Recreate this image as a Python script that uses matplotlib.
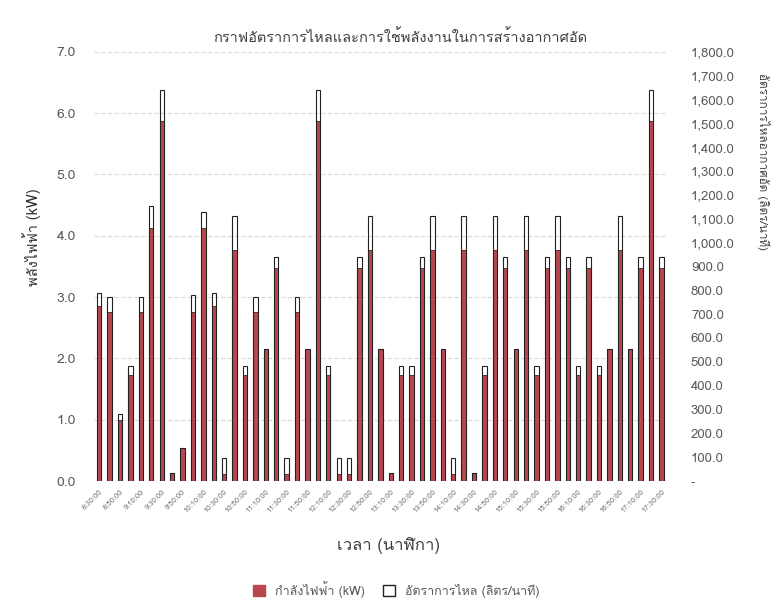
import matplotlib
matplotlib.use('Agg')
import matplotlib.pyplot as plt
from matplotlib.patches import Patch
from matplotlib.ticker import FuncFormatter, MultipleLocator
import numpy as np

# data (one bar every 10 minutes)
times = [
    '8:30:00', '8:40:00', '8:50:00', '9:00:00', '9:10:00', '9:20:00', '9:30:00',
    '9:40:00', '9:50:00', '10:00:00', '10:10:00', '10:20:00', '10:30:00', '10:40:00',
    '10:50:00', '11:00:00', '11:10:00', '11:20:00', '11:30:00', '11:40:00', '11:50:00',
    '12:00:00', '12:10:00', '12:20:00', '12:30:00', '12:40:00', '12:50:00', '13:00:00',
    '13:10:00', '13:20:00', '13:30:00', '13:40:00', '13:50:00', '14:00:00', '14:10:00',
    '14:20:00', '14:30:00', '14:40:00', '14:50:00', '15:00:00', '15:10:00', '15:20:00',
    '15:30:00', '15:40:00', '15:50:00', '16:00:00', '16:10:00', '16:20:00', '16:30:00',
    '16:40:00', '16:50:00', '17:00:00', '17:10:00', '17:20:00', '17:30:00',
]
power_kw = [
    2.85, 2.76, 1.00, 1.73, 2.76, 4.12, 5.87, 0.14, 0.54, 2.76,
    4.12, 2.85, 0.11, 3.76, 1.73, 2.76, 2.16, 3.47, 0.11, 2.76,
    2.16, 5.87, 1.73, 0.11, 0.11, 3.47, 3.76, 2.16, 0.14, 1.73,
    1.73, 3.47, 3.76, 2.16, 0.11, 3.76, 0.14, 1.73, 3.76, 3.47,
    2.16, 3.76, 1.73, 3.47, 3.76, 3.47, 1.73, 3.47, 1.73, 2.16,
    3.76, 2.16, 3.47, 5.87, 3.47,
]
flow_lpm = [
    790, 770, 280, 483, 770, 1152, 1640, 35, 140, 782,
    1129, 790, 95, 1110, 483, 770, 555, 941, 95, 770,
    555, 1640, 483, 95, 95, 941, 1110, 555, 35, 483,
    483, 941, 1110, 555, 95, 1110, 35, 483, 1110, 941,
    555, 1110, 483, 941, 1110, 941, 483, 941, 483, 555,
    1110, 555, 941, 1640, 941,
]

# Loma has the Thai glyphs, DejaVu covers anything else
plt.rcParams['font.family'] = ['Loma', 'DejaVu Sans']

red = '#b8474f'
gray = '#595959'

fig = plt.figure(figsize=(7.77, 6.09), dpi=100)
ax1 = fig.add_axes([0.121, 0.210, 0.737, 0.705])
ax2 = ax1.twinx()

x = np.arange(len(times))
ax1.bar(x, power_kw, width=0.42, color=red, edgecolor='#3b2626', linewidth=0.6, zorder=3)
ax2.bar(x, flow_lpm, width=0.42, facecolor='none', edgecolor='#222222', linewidth=0.8, zorder=3)

ax1.set_xlim(-0.5, len(times) - 0.5)
ax1.set_ylim(0, 7)
ax2.set_ylim(0, 1800)
ax1.yaxis.set_major_locator(MultipleLocator(1))
ax2.yaxis.set_major_locator(MultipleLocator(100))
ax1.yaxis.set_major_formatter(FuncFormatter(lambda v, p: f'{v:.1f}'))
ax2.yaxis.set_major_formatter(FuncFormatter(lambda v, p: '-' if v == 0 else f'{v:,.1f}'))

ax1.grid(axis='y', color='#d9d9d9', linestyle=(0, (4, 2)), linewidth=0.8)
ax1.set_axisbelow(True)
for ax in (ax1, ax2):
    for s in ax.spines.values():
        s.set_visible(False)
    ax.tick_params(length=0, colors=gray)
ax1.tick_params(axis='y', labelsize=10, pad=13)
ax2.tick_params(axis='y', labelsize=9.5, pad=17.5)

ax1.set_xticks(x[::2])
ax1.set_xticklabels(times[::2], rotation=45, ha='right', rotation_mode='anchor', fontsize=5.5, color='#777777')
ax1.tick_params(axis='x', pad=5)

fig.text(0.515, 0.939, 'กราฟอัตราการไหลและการใช้พลังงานในการสร้างอากาศอัด', ha='center', va='center',
         fontsize=10.5, color='#404040')
fig.text(0.041, 0.611, 'พลังไฟฟ้า (kW)', rotation=90, ha='center', va='center',
         fontsize=10.5, color='#333333')
fig.text(0.983, 0.734, 'อัตราการไหลอากาศอัด (ลิตร/นาที)', rotation=270, ha='center', va='center',
         fontsize=8.5, color='#404040')
fig.text(0.5, 0.105, 'เวลา (นาฬิกา)', ha='center', va='center', fontsize=12, color='#404040')

handles = [Patch(facecolor=red, edgecolor=red), Patch(facecolor='white', edgecolor='#222222')]
fig.legend(handles, ['กำลังไฟฟ้า (kW)', 'อัตราการไหล (ลิตร/นาที)'], loc='center',
           bbox_to_anchor=(0.51, 0.032), ncol=2, frameon=False, fontsize=9,
           handlelength=0.9, handleheight=0.9, columnspacing=1.5, labelcolor=gray)

fig.savefig('out.png', dpi=100)
